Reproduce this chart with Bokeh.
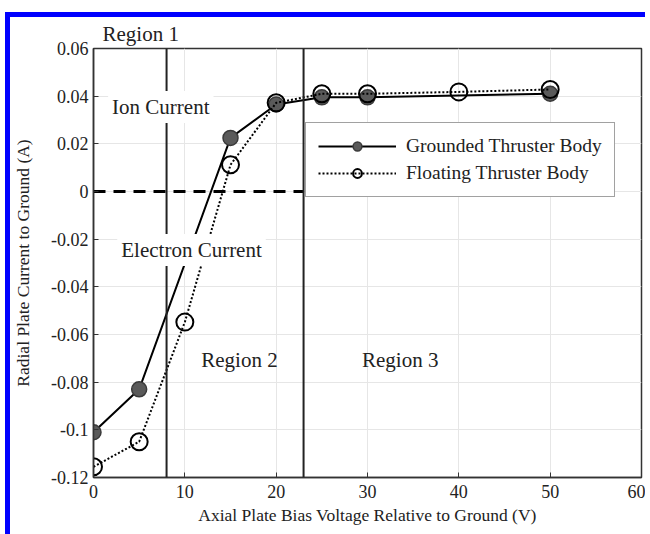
from bokeh.plotting import figure
from bokeh.models import Range1d, FixedTicker, Span, Label, Legend, LegendItem
from bokeh.embed import file_html
from bokeh.resources import INLINE

# ---- data ----
voltage_grounded = [0, 5, 15, 20, 25, 30, 50]
current_grounded = [-0.101, -0.083, 0.0225, 0.0365, 0.0395, 0.0395, 0.041]
voltage_floating = [0, 5, 10, 15, 20, 25, 30, 40, 50]
current_floating = [-0.1155, -0.105, -0.0548, 0.0112, 0.0372, 0.041, 0.041, 0.0418, 0.0428]
region_bounds = [8, 23]
zero_line_x = [0, 23]
zero_line_y = [0, 0]
x_ticks = [0, 10, 20, 30, 40, 50, 60]
y_ticks = [0.06, 0.04, 0.02, 0, -0.02, -0.04, -0.06, -0.08, -0.1, -0.12]
y_tick_labels = ["0.06", "0.04", "0.02", "0", "-0.02", "-0.04", "-0.06", "-0.08", "-0.1", "-0.12"]
series_names = ["Grounded Thruster Body", "Floating Thruster Body"]
region1_text = "Region 1"
annotations = [
    ("Ion Current", 1.6, 0.0355),
    ("Electron Current", 2.6, -0.0245),
    ("Region 2", 11.8, -0.0705),
    ("Region 3", 29.4, -0.0705),
]
boxed_annotations = ["Ion Current", "Electron Current"]

FONT = "Liberation Serif"

p = figure(width=640, height=513, output_backend="svg", toolbar_location=None,
           x_range=Range1d(0, 60), y_range=Range1d(-0.12, 0.06),
           min_border_left=83, min_border_right=9, min_border_top=31, min_border_bottom=62)
p.styles = {"margin-top": "12px", "margin-left": "5px", "min-height": "522px",
            "border-top": "5px solid #0000ff", "border-left": "5px solid #0000ff"}
p.background_fill_color = "white"
p.border_fill_color = "white"
p.outline_line_color = "#333333"
p.outline_line_width = 1.5

# "Region 1" sits above the frame
p.title.text = region1_text
p.title.align = "left"
p.title.offset = 9
p.title.standoff = 5
p.title.text_font = FONT
p.title.text_font_size = "21px"
p.title.text_font_style = "normal"
p.title.text_color = "#222222"

# axes
p.xaxis.ticker = FixedTicker(ticks=x_ticks)
p.yaxis.ticker = FixedTicker(ticks=y_ticks)
p.yaxis.major_label_overrides = {t: s for t, s in zip(y_ticks, y_tick_labels)}
for ax in (p.xaxis[0], p.yaxis[0]):
    ax.major_tick_in = 5
    ax.major_tick_out = 0
    ax.minor_tick_in = 0
    ax.minor_tick_out = 0
    ax.axis_line_color = "#333333"
    ax.axis_line_width = 1.5
    ax.major_tick_line_color = "#333333"
    ax.major_label_text_font = FONT
    ax.major_label_text_font_size = "18px"
    ax.major_label_text_color = "#222222"
    ax.axis_label_text_font = FONT
    ax.axis_label_text_font_size = "17.5px"
    ax.axis_label_text_font_style = "normal"
    ax.axis_label_text_color = "#222222"
p.xaxis.axis_label = "Axial Plate Bias Voltage Relative to Ground (V)"
p.yaxis.axis_label = "Radial Plate Current to Ground (A)"
p.xaxis.major_label_standoff = 7
p.xaxis.axis_label_standoff = 4
p.yaxis.major_label_standoff = 5
p.yaxis.axis_label_standoff = 15

# grid
p.xgrid.ticker = FixedTicker(ticks=x_ticks)
p.ygrid.ticker = FixedTicker(ticks=y_ticks)
p.grid.grid_line_color = "#e6e6e6"
p.grid.grid_line_width = 1

# zero dashed line
p.line(zero_line_x, zero_line_y, line_color="black", line_width=3, line_dash="12 8")

# region boundaries
for xb in region_bounds:
    p.add_layout(Span(location=xb, dimension="height", line_color="#222222", line_width=2))

# series
lg = p.line(voltage_grounded, current_grounded, line_color="black", line_width=2)
sg = p.scatter(voltage_grounded, current_grounded, marker="circle", size=15,
               fill_color="#5a5a5a", line_color="#3a3a3a", line_width=1.5)
lf = p.line(voltage_floating, current_floating, line_color="black", line_width=2, line_dash="2 2")
sf = p.scatter(voltage_floating, current_floating, marker="circle", size=17,
               fill_alpha=0, line_color="black", line_width=2)

# annotations
for txt, x, y in annotations:
    boxed = txt in boxed_annotations
    p.add_layout(Label(x=x, y=y, text=txt, text_font=FONT, text_font_size="21px",
                       text_color="#222222", text_baseline="middle", text_align="left",
                       background_fill_color="white" if boxed else None,
                       padding=4 if boxed else 0))

legend = Legend(items=[LegendItem(label=series_names[0], renderers=[lg, sg]),
                       LegendItem(label=series_names[1], renderers=[lf, sf])],
                location=(212, 280))
legend.label_text_font = FONT
legend.label_text_font_size = "19.5px"
legend.label_text_color = "#222222"
legend.glyph_width = 78
legend.glyph_height = 22
legend.label_standoff = 10
legend.padding = 12
legend.spacing = 5
legend.margin = 0
legend.border_line_color = "#444444"
legend.border_line_width = 1.5
legend.background_fill_color = "white"
legend.background_fill_alpha = 1
p.add_layout(legend, "center")

open("out.html", "w").write(file_html(p, INLINE))
